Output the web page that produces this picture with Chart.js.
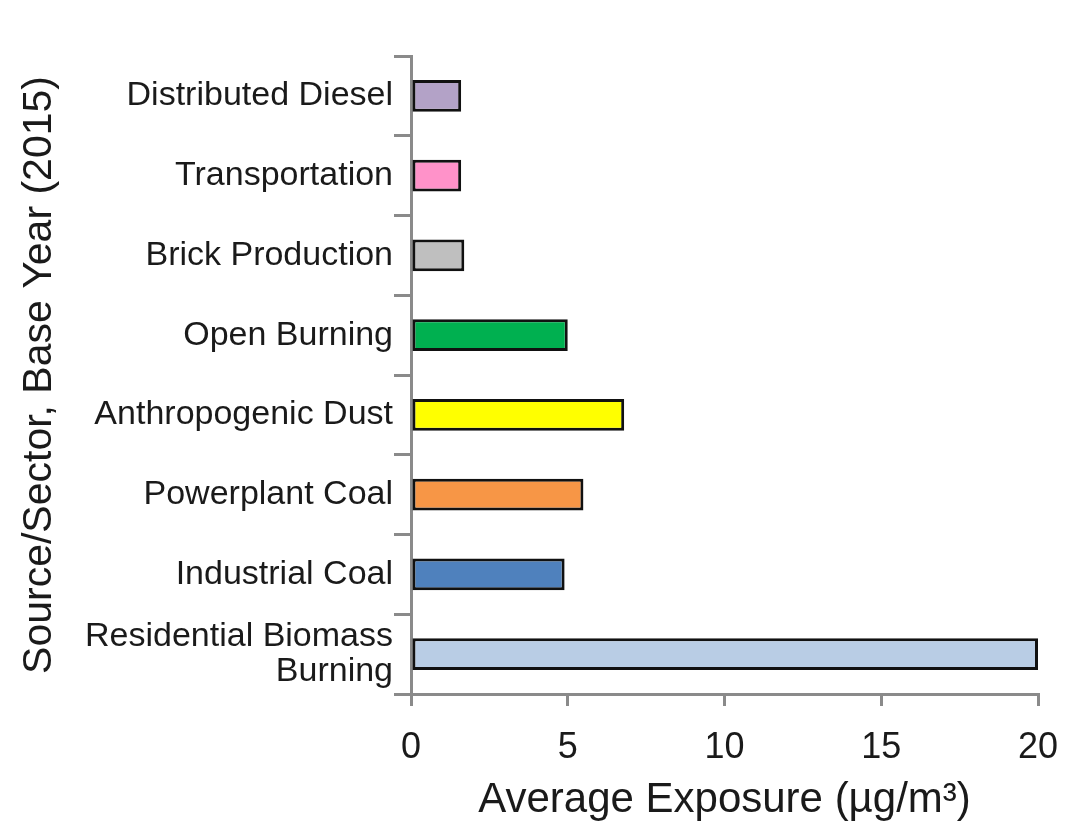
<!DOCTYPE html>
<html>
<head>
<meta charset="utf-8">
<script src="https://cdn.jsdelivr.net/npm/chart.js@4/dist/chart.umd.min.js"></script>
<style>
  html, body { margin: 0; padding: 0; background: #ffffff; }
  #wrap { width: 1066px; height: 821px; }
</style>
</head>
<body>
<div id="wrap"><canvas id="c" width="1066" height="821"></canvas></div>
<script>
// Source/sector categories, top to bottom
const sectors = [
  'Distributed Diesel',
  'Transportation',
  'Brick Production',
  'Open Burning',
  'Anthropogenic Dust',
  'Powerplant Coal',
  'Industrial Coal',
  ['Residential Biomass', 'Burning']
];
// Average exposure per sector (µg/m³)
const exposure = [1.6, 1.6, 1.7, 5.0, 6.8, 5.5, 4.9, 20.0];
// Fill colour per sector
const barColors = [
  '#b3a2c7', '#ff92c9', '#bfbfbf', '#00b050',
  '#ffff00', '#f79646', '#4f81bd', '#b9cde5'
];
const xTicks = [0, 5, 10, 15, 20];

const axisGray = '#8a8a8a';
const textColor = '#1a1a1a';
const fontFamily = '"Liberation Sans", Arial, Helvetica, sans-serif';

new Chart(document.getElementById('c'), {
  type: 'bar',
  data: {
    labels: sectors,
    datasets: [{
      data: exposure,
      backgroundColor: barColors,
      borderColor: '#111111',
      borderWidth: 3,
      borderSkipped: false,
      categoryPercentage: 1.0,
      barPercentage: 0.4
    }]
  },
  options: {
    indexAxis: 'y',
    responsive: false,
    animation: false,
    layout: { padding: { top: 56, right: 28, bottom: 0, left: 0 } },
    plugins: { legend: { display: false }, tooltip: { enabled: false } },
    scales: {
      x: {
        type: 'linear',
        min: xTicks[0],
        max: xTicks[xTicks.length - 1],
        afterBuildTicks: (scale) => { scale.ticks = xTicks.map(v => ({ value: v })); },
        afterFit: (scale) => {
          scale.height = 127;
          scale.paddingLeft = 0;
          scale.paddingRight = 0;
        },
        border: { display: true, color: axisGray, width: 3 },
        grid: {
          display: true,
          drawOnChartArea: false,
          drawTicks: true,
          tickLength: 12,
          color: axisGray,
          lineWidth: 3
        },
        ticks: {
          color: textColor,
          padding: 20,
          font: { family: fontFamily, size: 36 }
        },
        title: {
          display: true,
          text: 'Average Exposure (µg/m³)',
          color: textColor,
          padding: { top: 0, bottom: 0 },
          font: { family: fontFamily, size: 42, lineHeight: 1.0 }
        }
      },
      y: {
        afterFit: (scale) => {
          scale.width = 411;
          scale.paddingTop = 0;
          scale.paddingBottom = 0;
        },
        border: { display: true, color: axisGray, width: 3 },
        grid: {
          display: true,
          offset: true,
          drawOnChartArea: false,
          drawTicks: true,
          tickLength: 17,
          color: axisGray,
          lineWidth: 3
        },
        ticks: {
          color: textColor,
          padding: 1,
          font: { family: fontFamily, size: 34, lineHeight: 1.05 }
        },
        title: {
          display: true,
          text: 'Source/Sector, Base Year (2015)',
          color: textColor,
          padding: { top: 15, bottom: 0 },
          font: { family: fontFamily, size: 41 }
        }
      }
    }
  }
});
</script>
</body>
</html>
